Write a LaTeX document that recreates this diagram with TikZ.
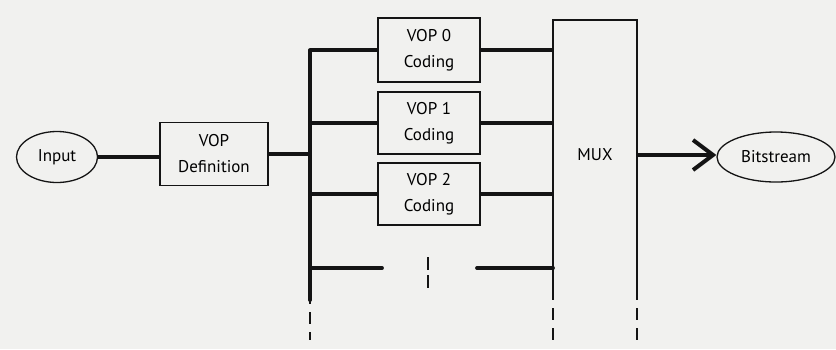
\documentclass[tikz,border=0pt]{standalone}
\usepackage{fontspec}
\setmainfont{PT Sans}
\usetikzlibrary{arrows.meta,shapes.geometric}
\definecolor{paper}{RGB}{241,241,239}
\definecolor{ink}{RGB}{20,20,20}
\tikzset{
  thinline/.style={draw=ink,line width=1.3pt},
  thickline/.style={draw=ink,line width=3.8pt},
  txt/.style={font=\fontsize{17}{26}\selectfont},
  boxnode/.style={thinline,rectangle,inner sep=0pt,align=center,txt},
  ovalnode/.style={thinline,ellipse,inner sep=0pt,align=center,txt},
  dashthin/.style={draw=ink,line width=1.3pt,dash pattern=on 12pt off 8pt},
}
\begin{document}
\begin{tikzpicture}[x=1pt,y=-1pt]
\fill[paper] (0,0) rectangle (836,349);
\useasboundingbox (0,0) rectangle (836,349);
% nodes
\node[ovalnode,minimum width=81pt,minimum height=51pt] (input) at (57,157) {Input};
\node[boxnode,minimum width=108pt,minimum height=63pt] (def) at (214,154) {VOP\\Definition};
\node[boxnode,minimum width=102pt,minimum height=64pt] (v0) at (429,50) {VOP 0\\Coding};
\node[boxnode,minimum width=102pt,minimum height=62pt] (v1) at (429,123) {VOP 1\\Coding};
\node[boxnode,minimum width=102pt,minimum height=62pt] (v2) at (429,194) {VOP 2\\Coding};
\node[txt] (mux) at (595,155) {MUX};
\node[ovalnode,minimum width=118pt,minimum height=50pt] (bits) at (776,157) {Bitstream};
% coordinates
\coordinate (bustop) at (310,50);
\coordinate (busbot) at (310,300);
\coordinate (busend) at (310,340);
\coordinate (busin) at (310,154);
\coordinate (bus3) at (310,268);
\coordinate (muxTL) at (553,20);
\coordinate (muxTR) at (637,20);
\coordinate (muxBL) at (553,298);
\coordinate (muxBR) at (637,298);
\coordinate (muxBLe) at (553,340);
\coordinate (muxBRe) at (637,340);
\coordinate (muxout) at (637,155);
\coordinate (l3a) at (382,268);
\coordinate (l3b) at (477,268);
\coordinate (l3c) at (553,268);
\coordinate (midtop) at (428,257);
\coordinate (midbot) at (428,288);
% MUX open box
\draw[thinline] (muxBL) -- (muxTL) -- (muxTR) -- (muxBR);
\draw[dashthin] ([yshift=10pt]muxBL) -- (muxBLe);
\draw[dashthin] ([yshift=10pt]muxBR) -- (muxBRe);
% bus
\draw[thickline,line cap=round] (bustop) -- (busbot);
\draw[dashthin] ([yshift=8pt]busbot) -- (busend);
% connectors
\draw[thickline] (input) -- (def.west |- input);
\draw[thickline] (def.east) -- (busin);
\draw[thickline] (bustop) -- (v0.west);
\draw[thickline] (bustop |- v1) -- (v1.west);
\draw[thickline] (bustop |- v2) -- (v2.west);
\draw[thickline,line cap=round] (bus3) -- (l3a);
\draw[thickline] (v0.east) -- (muxTL |- v0);
\draw[thickline] (v1.east) -- (muxTL |- v1);
\draw[thickline] (v2.east) -- (muxTL |- v2);
\draw[thickline,line cap=round] (l3b) -- (l3c);
\draw[draw=ink,line width=1.5pt,dash pattern=on 13pt off 5pt] (midtop) -- (midbot);
\draw[thickline,-{Straight Barb[length=20pt,width=30pt,line width=4pt]}] (muxout) -- (muxout -| bits.west);
\end{tikzpicture}
\end{document}
